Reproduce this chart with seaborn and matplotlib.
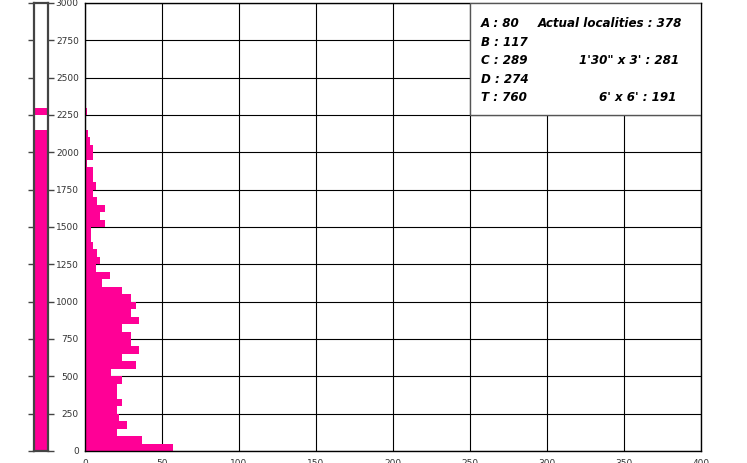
import numpy as np
import pandas as pd
import seaborn as sns
import matplotlib.pyplot as plt
from matplotlib.patches import Rectangle

# counts per 50 m elevation bin (0-50, 50-100, ... 2950-3000)
bin_width = 50
counts = [57, 37, 21, 27, 22, 21, 24, 21, 21, 24,
          17, 33, 24, 35, 30, 30, 24, 35, 30, 33,
          30, 24, 11, 16, 7, 10, 8, 5, 4, 4,
          13, 10, 13, 8, 5, 7, 5, 5, 1, 5,
          5, 3, 2, 0, 0, 1, 0, 0, 0, 0,
          0, 0, 0, 0, 0, 0, 0, 0, 0, 0]
bin_lo = [i * bin_width for i in range(len(counts))]

# elevation ranges that are covered (left strip)
range_lo = [0, 2250]
range_hi = [2150, 2300]

# legend text
left_lines = ["A : 80", "B : 117", "C : 289", "D : 274", "T : 760"]
right_lines = ["Actual localities : 378", "", "1'30\" x 3' : 281", "", "6' x 6' : 191"]

pink = "#ff0096"

df = pd.DataFrame({"elev": [b + bin_width / 2 for b in bin_lo], "n": counts})

sns.set_style("white")
plt.rcParams["font.family"] = ["DejaVu Sans"]

W, H = 747, 463
fig = plt.figure(figsize=(W / 100, H / 100), dpi=100)

# strip on the left
ax_s = fig.add_axes([34 / W, 12 / H, 14 / W, 448 / H])
ax_s.bar([0] * len(range_lo), [h - l for l, h in zip(range_lo, range_hi)],
         bottom=range_lo, width=1.0, color=pink, linewidth=0)
ax_s.set_xlim(-0.5, 0.5)
ax_s.set_ylim(0, 3000)
ax_s.set_yticks(range(0, 3001, 250))
ax_s.set_xticks([])
ax_s.tick_params(axis="y", left=True, right=True, direction="out", length=4,
                 width=1, color="#444444", labelleft=False)
for sp in ax_s.spines.values():
    sp.set_color("#444444")
    sp.set_linewidth(1.6)

# main histogram
ax = fig.add_axes([85 / W, 12 / H, 616 / W, 448 / H])
sns.histplot(data=df, y="elev", weights="n", binwidth=bin_width, binrange=(0, 3000),
             color=pink, alpha=1, linewidth=0, ax=ax, zorder=2)
ax.set_xlim(0, 400)
ax.set_ylim(0, 3000)
ax.set_xticks(range(0, 401, 50))
ax.set_yticks(range(0, 3001, 250))
ax.set_xlabel("")
ax.set_ylabel("")
ax.grid(True, color="black", linewidth=0.8)
ax.set_axisbelow(True)
ax.tick_params(axis="both", direction="out", length=3, width=0.8, pad=1.5,
               labelsize=6.5, labelcolor="#333333", color="#333333")
ax.tick_params(axis="x", pad=3)
for sp in ax.spines.values():
    sp.set_color("black")
    sp.set_linewidth(1)

# info box
ax.add_patch(Rectangle((385 / 616, (451 - 115) / 448), 231 / 616, 112 / 448,
                       transform=ax.transAxes, facecolor="white",
                       edgecolor="#555555", linewidth=1, zorder=4))
txt_kw = dict(transform=ax.transAxes, va="center", fontsize=8.6,
              fontweight="bold", style="oblique", color="black", zorder=5)
for i, (l, r) in enumerate(zip(left_lines, right_lines)):
    yy = 1 - (21 + 18.5 * i) / 448
    ax.text(396 / 616, yy, l, ha="left", **txt_kw)
    if r:
        ax.text((597 - 1.5 * i) / 616, yy, r, ha="right", **txt_kw)

fig.savefig("out.png", dpi=100)
